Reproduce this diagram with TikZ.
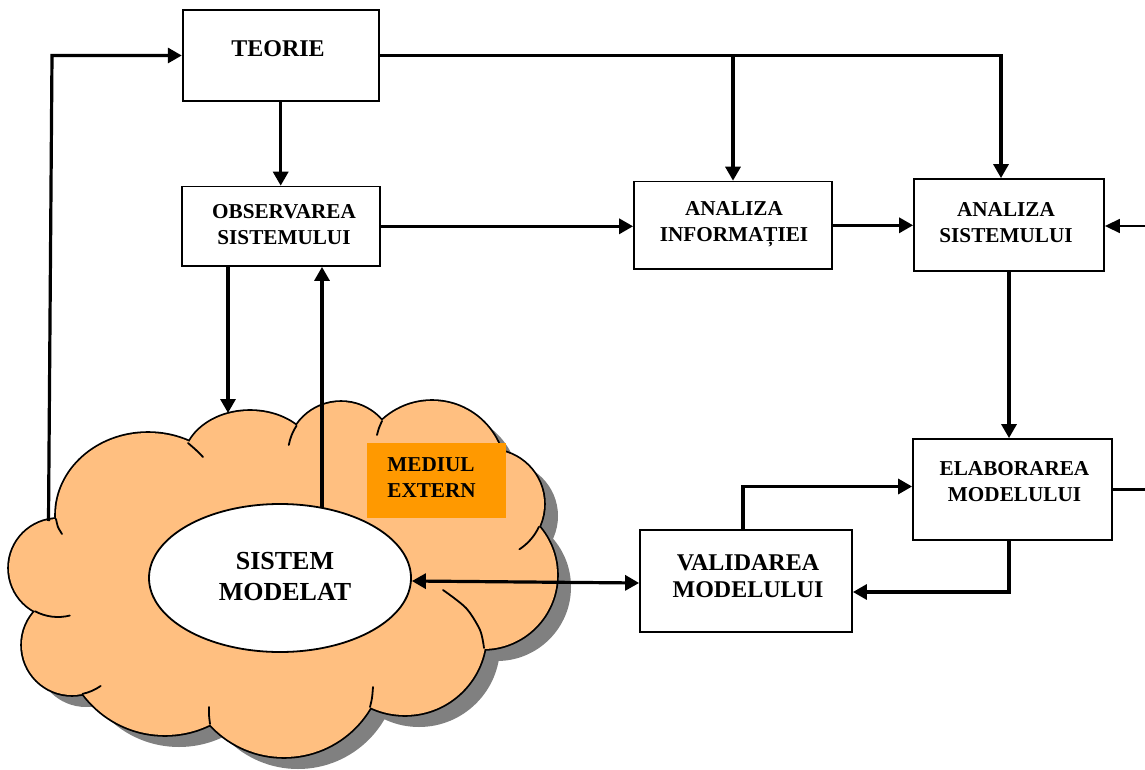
\documentclass[tikz,border=0pt]{standalone}
\usepackage{fontspec}
\setmainfont{Liberation Serif}
\usetikzlibrary{arrows.meta,shapes.geometric}

\definecolor{cloudfill}{RGB}{255,191,128}
\definecolor{cloudshadow}{RGB}{128,128,128}
\definecolor{extorange}{RGB}{255,153,0}

% Lobes of the environment cloud; their union is the cloud body
\newcommand\cloudlobes{%
  (58,568) circle[radius=49]
  (148,515) ellipse[x radius=92, y radius=82]
  (72,645) circle[radius=50]
  (165,633) circle[radius=102]
  (284,657) circle[radius=100]
  (405,634) circle[radius=81]
  (483,575) circle[radius=74]
  (490,504) circle[radius=54]
  (432,474) circle[radius=73]
  (341,454) ellipse[x radius=53, y radius=52]
  (250,462) ellipse[x radius=66, y radius=51]
  (290,580) ellipse[x radius=190, y radius=130]}

\begin{document}
\begin{tikzpicture}[x=0.5pt,y=-0.5pt,
  box/.style={draw, line width=0.9pt, inner sep=0pt, fill=white},
  lbl/.style={font=\bfseries\fontsize{10.6}{13}\selectfont, align=center, inner sep=0pt},
  lblbig/.style={font=\bfseries\fontsize{12}{13.5}\selectfont, align=center, inner sep=0pt},
  conn/.style={line width=1.6pt, -{Triangle[length=7pt,width=7.5pt]}},
  thinconn/.style={line width=0.8pt, -{Triangle[length=7.5pt,width=7pt]}},
  twoway/.style={line width=1.6pt, {Triangle[length=7pt,width=7.5pt]}-{Triangle[length=7pt,width=7.5pt]}},
  plain/.style={line width=1.6pt},
  tail/.style={line width=0.9pt, line cap=round}]

\useasboundingbox (0,0) rectangle (1145,770);

% cloud: shadow, outline (doubled stroke under the fill), body, inner lobe strokes
\begin{scope}[shift={(14,12)}]
  \fill[cloudshadow] \cloudlobes;
\end{scope}
\draw[line width=1.8pt] \cloudlobes;
\fill[cloudfill] \cloudlobes;
\draw[tail] plot[smooth] coordinates {(56,519) (58,527) (62,534)};
\draw[tail] (58,568) ++(118:49) arc[start angle=118, end angle=76, radius=49];
\draw[tail] (72,645) ++(78:50) arc[start angle=78, end angle=55, radius=50];
\draw[tail] plot[smooth] coordinates {(210,724) (209,715) (209,707)};
\draw[tail] plot[smooth] coordinates {(370,707) (372,698) (373,687)};
\draw[tail] plot[smooth] coordinates {(484,648) (480,630) (466,608) (443,590)};
\draw[tail] (490,504) ++(25:54) arc[start angle=25, end angle=57, radius=54];
\draw[tail] plot[smooth] coordinates {(382,421) (379,428) (377,435)};
\draw[tail] (341,454) ++(-147:53 and 52) arc[start angle=-147, end angle=-170, x radius=53, y radius=52];
\draw[tail] plot[smooth] coordinates {(188,443) (196,450) (203,457)};

% modelled system
\node[draw, fill=white, line width=0.9pt, ellipse, minimum width=131pt, minimum height=74pt, inner sep=0pt]
  (sistem) at (280,578) {};
\node[font=\bfseries\fontsize{13}{15.5}\selectfont, align=center, inner sep=0pt]
  (sistemT) at (285,576.5) {SISTEM\\MODELAT};

% external environment label
\node[fill=extorange, minimum width=69.5pt, minimum height=37.5pt, inner sep=0pt]
  (mediu) at (436.5,480.5) {};
\node[lbl, align=left, anchor=west] (mediuT) at (387,478) {MEDIUL\\EXTERN};

% blocks
\node[box, minimum width=98pt, minimum height=45.5pt] (teorie) at (280.7,55.5) {};
\node[font=\bfseries\fontsize{12}{14}\selectfont, inner sep=0pt] (teorieT) at (278,48.5) {TEORIE};

\node[box, minimum width=99pt, minimum height=39.7pt] (obs) at (281,226.3) {};
\node[lbl] (obsT) at (284,225) {OBSERVAREA\\SISTEMULUI};

\node[box, minimum width=99pt, minimum height=43.7pt] (ainf) at (733,225.3) {};
\node[lbl] (ainfT) at (734,224.5) {ANALIZA\\INFORMAȚIEI};

\node[box, minimum width=95pt, minimum height=46pt] (asis) at (1009,225) {};
\node[lbl] (asisT) at (1006,222.5) {ANALIZA\\SISTEMULUI};

\node[box, minimum width=99.5pt, minimum height=50.5pt] (elab) at (1012.5,489.5) {};
\node[lbl] (elabT) at (1014.5,482) {ELABORAREA\\MODELULUI};

\node[box, minimum width=106pt, minimum height=51pt] (valid) at (746,581) {};
\node[lblbig] (validT) at (748,576) {VALIDAREA\\MODELULUI};

% free ends of connectors
\coordinate (cloudL) at (48.5,521);
\coordinate (leftX) at (52,0);
\coordinate (cloudTop) at (228,413);
\coordinate (sysTop) at (322,508);
\coordinate (rightIn) at (1145,226);
\coordinate (rightOut) at (1145,0);

% connectors
\draw[conn] (cloudL) -- (leftX |- teorie.west) -- (teorie.west);
\draw[conn] (teorie.south) -- (teorie.south |- obs.north);
\draw[conn] (teorie.east) -| ([xshift=-4pt]asis.north);
\draw[conn] (ainf.north |- teorie.east) -- (ainf.north);
\draw[conn] (obs.east) -- (obs.east -| ainf.west);
\draw[conn] (ainf.east) -- (ainf.east -| asis.west);
\draw[thinconn] (rightIn) -- (rightIn -| asis.east);
\draw[conn] (asis.south) -- (asis.south |- elab.north);
\draw[plain] (elab.east) -- (rightOut |- elab.east);
\draw[conn] (asis.south |- elab.south) |- ([yshift=-5.5pt]valid.east);
\draw[conn] ([xshift=-1.5pt]valid.north) |- ([yshift=1.5pt]elab.west);
\draw[twoway] ([yshift=-1.5pt]sistem.east) -- ([yshift=-1pt]valid.west);
\draw[conn] (cloudTop |- obs.south) -- (cloudTop);
\draw[conn] (sysTop) -- (sysTop |- obs.south);

\end{tikzpicture}
\end{document}
